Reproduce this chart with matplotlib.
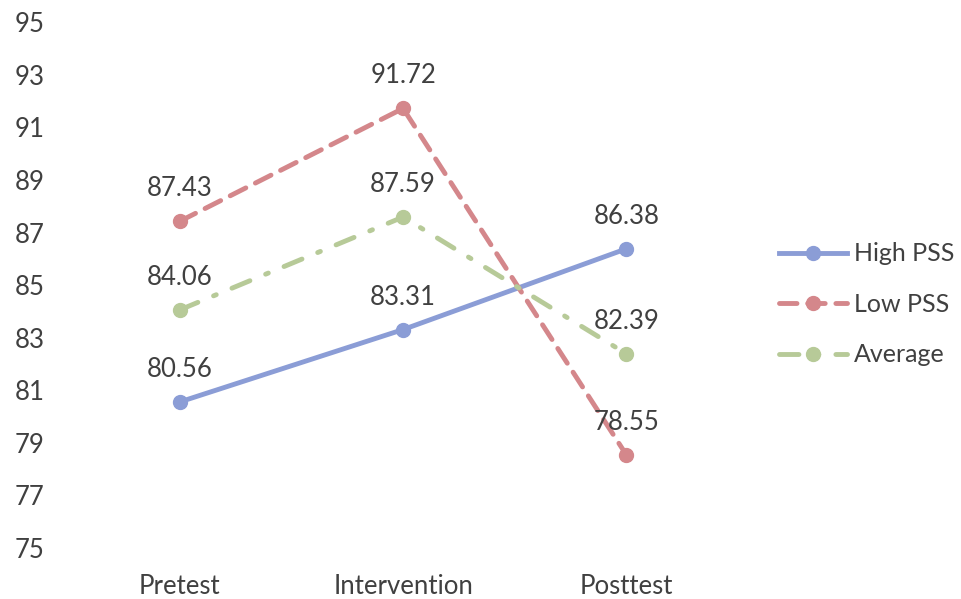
import matplotlib.pyplot as plt

# Scores at each stage, by stress group
stages = ["Pretest", "Intervention", "Posttest"]
high_pss = [80.56, 83.31, 86.38]
low_pss = [87.43, 91.72, 78.55]
average = [84.06, 87.59, 82.39]

plt.rcParams["font.family"] = ["Lato", "DejaVu Sans"]
text_color = "#404040"
fs = 18.5

fig = plt.figure(figsize=(9.62, 5.99), dpi=100)
ax = fig.add_axes([0.071, 0.085, 0.696, 0.878])

x = range(len(stages))
series = [
    ("High PSS", high_pss, "#8b9dd6", "-"),
    ("Low PSS", low_pss, "#d4878b", (0, (3.6, 2.2))),
    ("Average", average, "#b7ca98", (0, (4, 3.5, 0.6, 3.5))),
]
for name, vals, color, ls in series:
    line, = ax.plot(x, vals, color=color, linestyle=ls, linewidth=3.5,
                    marker="o", markersize=10, label=name)
    line.set_dash_capstyle("round")
    for xi, v in zip(x, vals):
        ax.annotate(f"{v:.2f}", (xi, v), xytext=(0, 18),
                    textcoords="offset points", ha="center", va="baseline",
                    fontsize=fs, color=text_color)

ax.set_xlim(-0.5, 2.5)
ax.set_ylim(75, 95)
ax.set_yticks(range(75, 96, 2))
ax.set_xticks(list(x))
ax.set_xticklabels(stages)
ax.tick_params(length=0, labelsize=fs, labelcolor=text_color)
ax.tick_params(axis="y", pad=17)
ax.tick_params(axis="x", pad=19)
for spine in ax.spines.values():
    spine.set_visible(False)

fig.legend(loc="center left", bbox_to_anchor=(0.81, 0.492), frameon=False,
           fontsize=18, labelcolor=text_color, handlelength=2.7,
           labelspacing=1.1, handletextpad=0.3, borderpad=0,
           borderaxespad=0)

fig.savefig("out.png", dpi=100)
